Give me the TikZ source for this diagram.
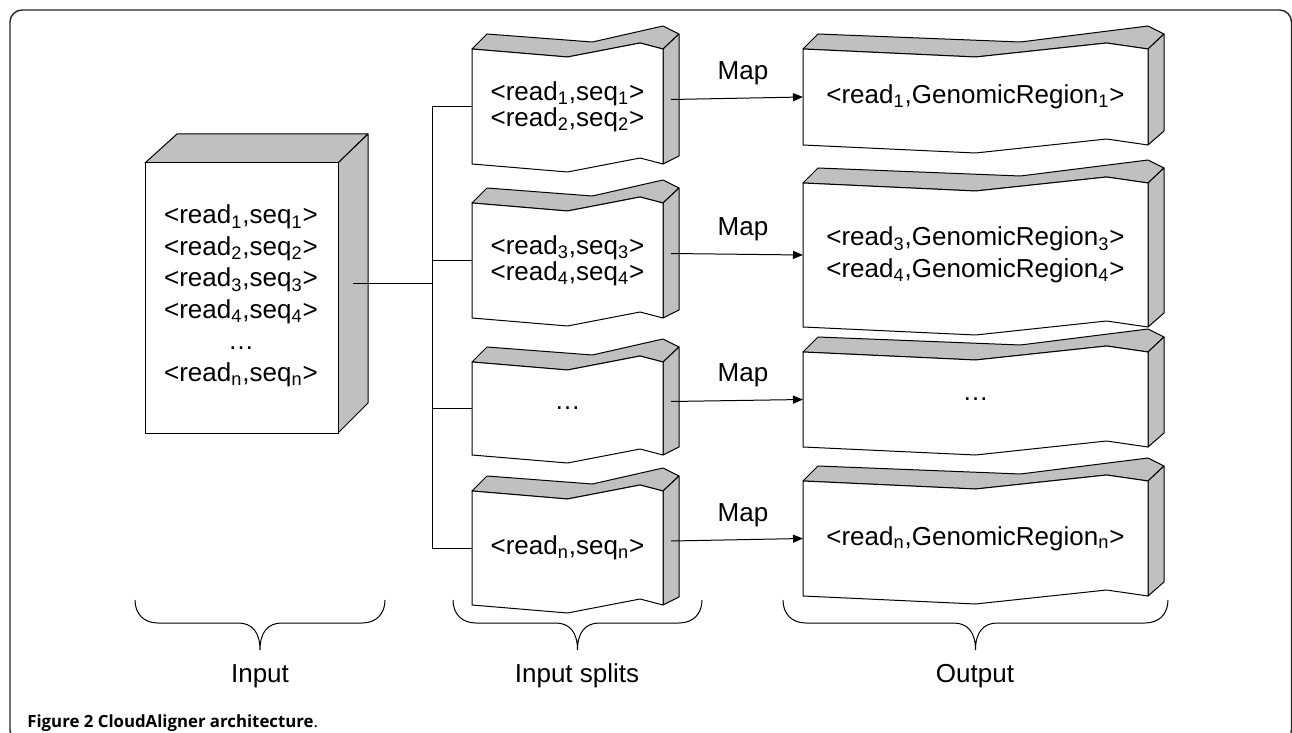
\documentclass[tikz,border=0pt]{standalone}
\usepackage{fontspec}
\setmainfont{Liberation Sans}
\newfontfamily\captionfont{Open Sans}
\usetikzlibrary{arrows.meta}
\definecolor{boxgrey}{RGB}{192,192,192}
\tikzset{
    frame/.style = {draw=black!85, line width=0.7pt},
    topface/.style = {fill=boxgrey, draw=black, line width=0.5pt, line join=round},
    frontface/.style = {fill=white, draw=black, line width=0.5pt, line join=round},
    boxtext/.style = {font=\fontsize{13}{#1}\selectfont, align=center, inner sep=0pt},
    boxtext/.default = 12pt,
    link/.style = {draw=black, line width=0.5pt},
    maparrow/.style = {link, -{Triangle[length=5pt,width=4pt]}},
    maplabel/.style = {midway, above=3pt, xshift=3pt, font=\fontsize{13}{15}\selectfont},
    colbrace/.style = {draw=black, line width=0.5pt},
    collabel/.style = {font=\fontsize{13}{15}\selectfont},
}
% wavy block: name, x, y (front top left), width, height, rise of side bottom, line skip, text
\newcommand{\wavybox}[8]{%
    \coordinate (#1-tl) at (#2,#3);
    \coordinate (#1-t1) at ({#2+0.5*#4},{#3+8});
    \coordinate (#1-t2) at ({#2+0.88*#4},{#3-6});
    \coordinate (#1-tr) at ({#2+#4},#3);
    \coordinate (#1-br) at ({#2+#4},{#3+#5});
    \coordinate (#1-b2) at ({#2+0.88*#4},{#3+#5-6});
    \coordinate (#1-b1) at ({#2+0.5*#4},{#3+#5+8});
    \coordinate (#1-bl) at (#2,{#3+#5});
    \coordinate (#1-w) at (#2,{#3+#5/2});
    \coordinate (#1-e) at ({#2+#4+8},{#3+#5/2-7});
    \filldraw[topface] (#1-tl) -- (#1-t1) -- (#1-t2) -- (#1-tr) -- ++(16,-15)
        -- ({#2+#4},{#3-23}) -- ({#2+0.63*#4},{#3-7}) -- ({#2+15},{#3-15}) -- cycle;
    \filldraw[topface] (#1-tr) -- ++(16,-15) -- ([shift={(16,-#6)}]#1-br) -- (#1-br) -- cycle;
    \filldraw[frontface] (#1-tl) -- (#1-t1) -- (#1-t2) -- (#1-tr) -- (#1-br)
        -- (#1-b2) -- (#1-b1) -- (#1-bl) -- cycle;
    \node[boxtext=#7] (#1) at ({#2+#4/2},{#3+#5/2}) {#8};
}
% curly brace under a column: x left, x right
\newcommand{\colbrace}[2]{%
    \draw[colbrace] (#1,600) .. controls (#1,614) and ({#1+9},623) .. ({#1+23},623)
        -- ({(#1+#2)/2-22},623) .. controls ({(#1+#2)/2-8},623) and ({(#1+#2)/2},632) .. ({(#1+#2)/2},650)
        .. controls ({(#1+#2)/2},632) and ({(#1+#2)/2+8},623) .. ({(#1+#2)/2+22},623)
        -- ({#2-23},623) .. controls ({#2-9},623) and (#2,614) .. (#2,600);
}

\begin{document}
\begin{tikzpicture}[x=0.5pt, y=-0.5pt]
\useasboundingbox (0,0) rectangle (1292,733);
\draw[frame, rounded corners=6pt] (10,10) rectangle (1291.5,742);

% input block
\filldraw[topface] (145,163) -- (177,134) -- (368,134) -- (338,163) -- cycle;
\filldraw[topface] (338,163) -- (368,134) -- (368,403) -- (338,433) -- cycle;
\filldraw[frontface] (145,163) rectangle (338,433);
\coordinate (inp-e) at (353,283);
\node[boxtext=15.75pt] (inp) at (241,296) {<read\textsubscript{1},seq\textsubscript{1}>\\
    <read\textsubscript{2},seq\textsubscript{2}>\\<read\textsubscript{3},seq\textsubscript{3}>\\
    <read\textsubscript{4},seq\textsubscript{4}>\\\ldots\\<read\textsubscript{n},seq\textsubscript{n}>};

% input splits
\wavybox{s1}{472}{49}{191}{115}{8}{12pt}{<read\textsubscript{1},seq\textsubscript{1}>\\<read\textsubscript{2},seq\textsubscript{2}>}
\wavybox{s2}{472}{203}{191}{115}{8}{12pt}{<read\textsubscript{3},seq\textsubscript{3}>\\<read\textsubscript{4},seq\textsubscript{4}>}
\wavybox{s3}{472}{362}{191}{93}{8}{12pt}{\ldots}
\wavybox{s4}{472}{491}{191}{114}{8}{12pt}{<read\textsubscript{n},seq\textsubscript{n}>}

% outputs
\wavybox{o1}{803}{49}{345}{96}{14}{16pt}{<read\textsubscript{1},GenomicRegion\textsubscript{1}>}
\wavybox{o2}{803}{183}{345}{144}{14}{16pt}{<read\textsubscript{3},GenomicRegion\textsubscript{3}>\\<read\textsubscript{4},GenomicRegion\textsubscript{4}>}
\wavybox{o3}{803}{352}{345}{95}{14}{16pt}{\ldots}
\wavybox{o4}{803}{481}{345}{115}{14}{16pt}{<read\textsubscript{n},GenomicRegion\textsubscript{n}>}

% fan-out from the input
\coordinate (bus) at (432,0);
\draw[link] (inp-e) -- (inp-e -| bus);
\draw[link] (s1-w -| bus) -- (s4-w -| bus);
\foreach \s in {s1,s2,s3,s4}
    \draw[link] (\s-w -| bus) -- (\s-w);

% map steps
\foreach \i in {1,2,3,4}
    \draw[maparrow] (s\i-e) -- node[maplabel] {Map} (o\i-w);

% braces and column labels
\colbrace{135}{385}
\colbrace{453}{702}
\colbrace{783}{1168}
\node[collabel] (lbl-in) at (260,676) {Input};
\node[collabel] (lbl-split) at (577,676) {Input splits};
\node[collabel] (lbl-out) at (975,676) {Output};

\node[anchor=base west, inner sep=0pt, font=\captionfont\fontsize{8.4}{10}\selectfont] (caption)
    at (27,727) {\bfseries Figure 2 CloudAligner architecture\mdseries.};
\end{tikzpicture}
\end{document}
